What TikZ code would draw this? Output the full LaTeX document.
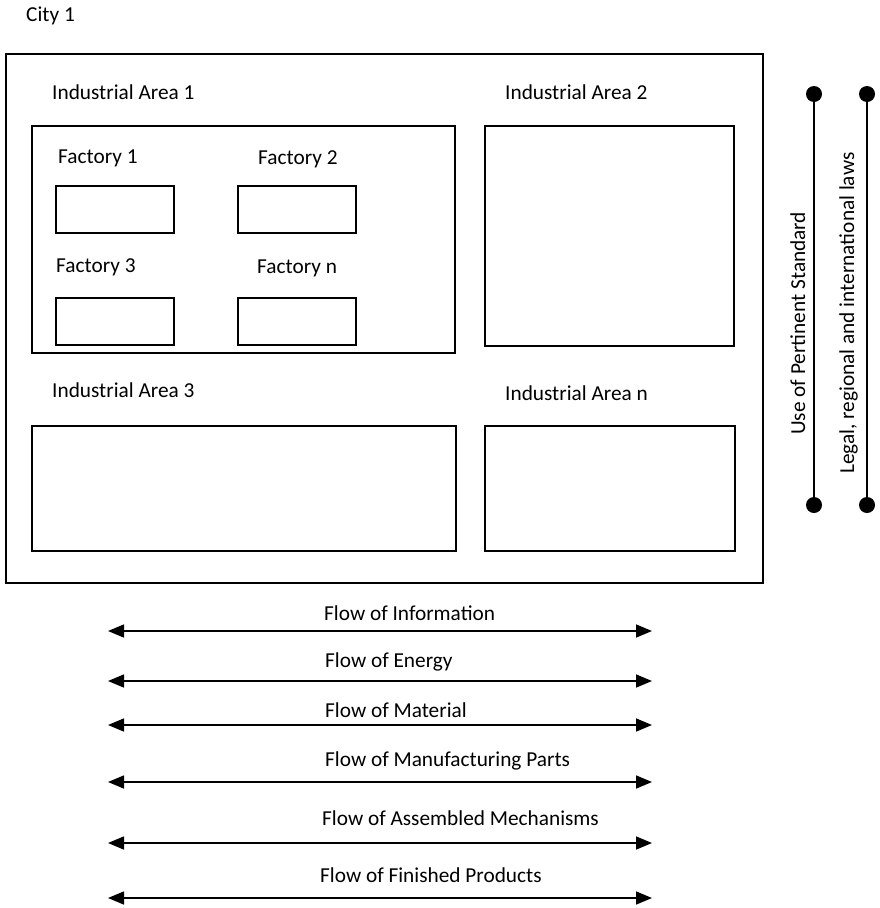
\documentclass[tikz,border=0pt]{standalone}
\usepackage{fontspec}
\setmainfont{Carlito}
\usetikzlibrary{arrows.meta}

\begin{document}
\begin{tikzpicture}
    [x=1pt, y=-1pt,
    font=\fontsize{21.3}{25}\selectfont,
    inner sep=0pt,
    box/.style={
        draw,
        line width=1.6pt,
        anchor=north west,
        outer sep=0pt
    },
    title/.style={anchor=base west},
    sidetitle/.style={anchor=base west, rotate=90},
    flow/.style={
        draw, line width=1.6pt,
        {Triangle[length=16pt,width=13pt]}-{Triangle[length=16pt,width=13pt]}
    },
    rule/.style={draw, line width=1.6pt},
    dot/.style={circle, fill=black, minimum size=16pt, inner sep=0pt}
    ]
    \useasboundingbox (0,0) rectangle (880,908);

    % City
    \node[title] (citytitle) at (26,21) {City 1};
    \node[box, minimum width=757pt, minimum height=529pt] (city) at (6,54) {};

    % Industrial areas
    \node[title] (area1title) at (52,99) {Industrial Area 1};
    \node[box, minimum width=423pt, minimum height=227pt] (area1) at (32,126) {};
    \node[title] (area2title) at (505,99) {Industrial Area 2};
    \node[box, minimum width=249pt, minimum height=220pt] (area2) at (485,126) {};
    \node[title] (area3title) at (52,397) {Industrial Area 3};
    \node[box, minimum width=424pt, minimum height=125pt] (area3) at (32,426) {};
    \node[title] (areantitle) at (505,400) {Industrial Area n};
    \node[box, minimum width=250pt, minimum height=125pt] (arean) at (485,426) {};

    % Factories
    \foreach \f/\lx/\ly/\bx/\by in {1/58/163/56/186, 2/258/164/238/186, 3/56/272/56/298, n/257/273/238/298}{
        \node[title] (factory\f title) at (\lx,\ly) {Factory \f};
        \node[box, minimum width=118pt, minimum height=47pt] (factory\f) at (\bx,\by) {};
    }

    % Standards and laws
    \node[dot] (stdtop) at (814,94) {};
    \node[dot] (stdbottom) at (814,505) {};
    \path[rule] (stdtop) -- (stdbottom);
    \node[sidetitle] (stdtitle) at (805,435) {Use of Pertinent Standard};
    \node[dot] (lawtop) at (867,94) {};
    \node[dot] (lawbottom) at (867,505) {};
    \path[rule] (lawtop) -- (lawbottom);
    \node[sidetitle] (lawtitle) at (854,474) {Legal, regional and international laws};

    % Flows
    \foreach \n/\y/\lx/\ly/\txt in {1/631/324/620/Flow of Information, 2/681/325/667/Flow of Energy, 3/725/325/717/Flow of Material, 4/782/325/766/Flow of Manufacturing Parts, 5/843/322/825/Flow of Assembled Mechanisms, 6/898/320/882/Flow of Finished Products}{
        \coordinate (flowL\n) at (108,\y);
        \coordinate (flowR\n) at (652,\y);
        \path[flow] (flowL\n) -- (flowR\n);
        \node[title] (flowtitle\n) at (\lx,\ly) {\txt};
    }
\end{tikzpicture}
\end{document}
